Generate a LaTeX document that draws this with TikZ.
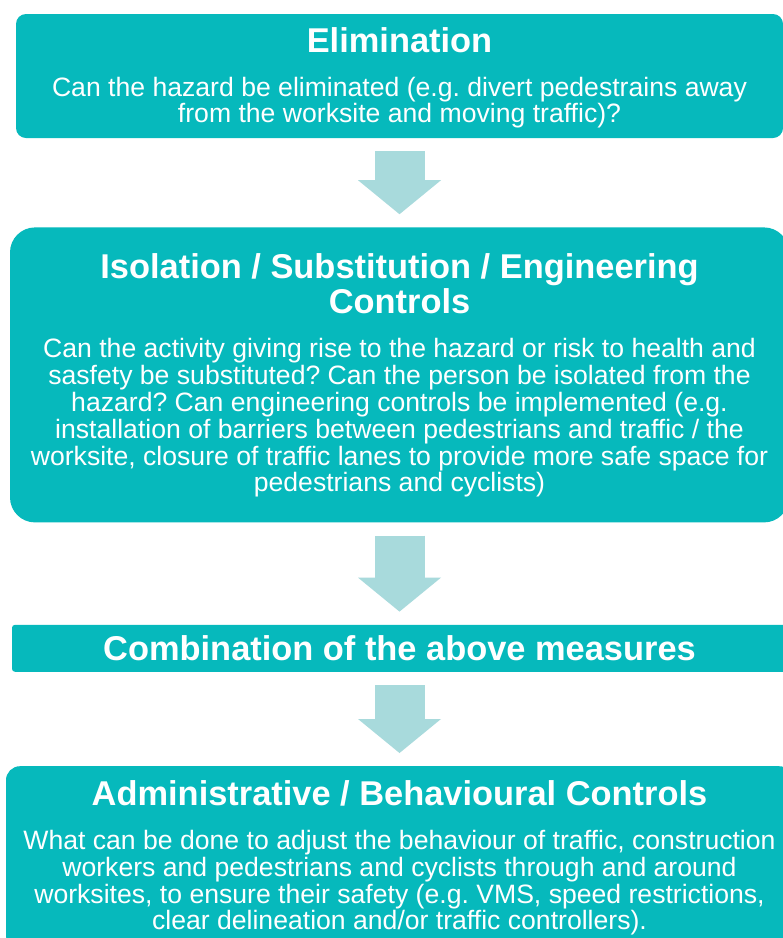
\documentclass[tikz,border=0pt]{standalone}
\usepackage{fontspec}
\setmainfont{Liberation Sans}
\usetikzlibrary{arrows.meta, positioning}
\usepackage{xcolor}
\setlength{\parindent}{0pt}
\frenchspacing

\definecolor{boxteal}{RGB}{6,185,188}
\definecolor{arrowteal}{RGB}{168,218,220}
\newcommand{\titlefont}{\fontsize{34.4pt}{35pt}\selectfont\bfseries\spaceskip=0pt\xspaceskip=0pt}
\newcommand{\bodyfont}{\normalfont\fontsize{26.6pt}{27pt}\selectfont\spaceskip=0pt\xspaceskip=0pt}
\newcommand{\topstrut}[1]{\rule{0pt}{#1}}

\begin{document}
\begin{tikzpicture}[
box/.style={fill=boxteal, 
text=white, 
inner sep=0pt, 
align=flush center}, 
flow/.style={draw=arrowteal, line width=50pt, 
-{Triangle[width=83pt, length=34pt, line width=0pt]}, 
shorten <=13pt, shorten >=13pt}
]

\fill[white] (0,0) rectangle (783pt,-938pt);
\useasboundingbox (0,0) rectangle (783pt,-938pt);
\clip (0,0) rectangle (783pt,-938pt);

\node[box, rounded corners=10pt, text width=767pt, minimum height=124pt] (elim) at (399.5pt,-76pt) {\titlefont\topstrut{29pt}Elimination\par\vspace{17pt}
\bodyfont Can the hazard be eliminated (e.g. divert pedestrains away\\ from the worksite and moving traffic)?}; 
\node[box, rounded corners=25pt, text width=779pt, minimum height=295pt, below=89pt of elim] (isol) {\titlefont Isolation / Substitution / Engineering\\ Controls\par\vspace{17pt}
\bodyfont Can the activity giving rise to the hazard or risk to health and\\ sasfety be substituted? Can the person be isolated from the\\ hazard? Can engineering controls be implemented (e.g.\\ installation of barriers between pedestrians and traffic / the\\ worksite, closure of traffic lanes to provide more safe space for\\ pedestrians and cyclists)}; 
\node[box, rounded corners=3pt, text width=775pt, minimum height=47pt, below=102pt of isol] (combo) {\titlefont Combination of the above measures}; 
\node[box, rounded corners=14pt, text width=787pt, minimum height=183pt, below=94pt of combo] (admin) {\titlefont Administrative / Behavioural Controls\par\vspace{17pt}
\bodyfont What can be done to adjust the behaviour of traffic, construction\\ workers and pedestrians and cyclists through and around\\ worksites, to ensure their safety (e.g. VMS, speed restrictions,\\ clear delineation and/or traffic controllers).};

\draw[flow] (elim) -- (isol); 
\draw[flow] (isol) -- (combo); 
\draw[flow] (combo) -- (admin);

\end{tikzpicture}
\end{document}
